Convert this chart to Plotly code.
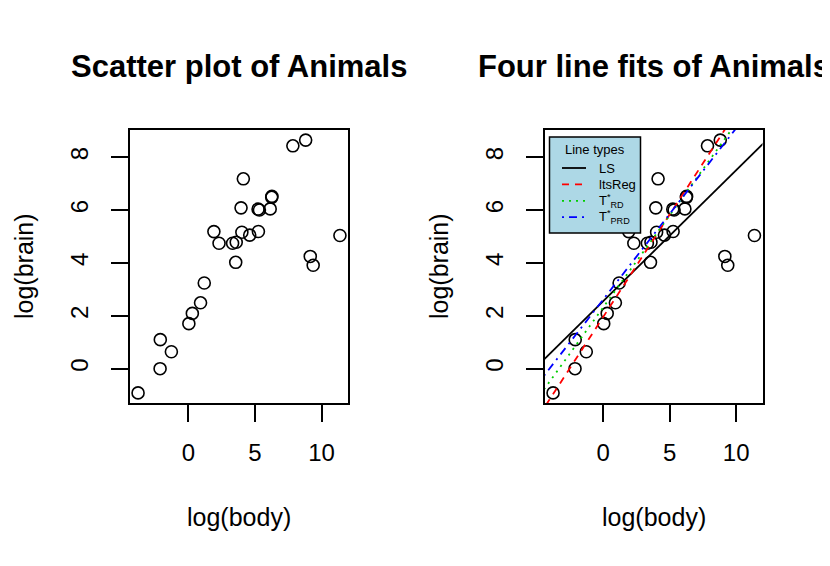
import plotly.graph_objects as go

# dados: log(body) e log(brain) do conjunto Animals
animais = ['Mountain beaver', 'Cow', 'Grey wolf', 'Goat', 'Guinea pig', 'Dipliodocus',
           'Asian elephant', 'Donkey', 'Horse', 'Potar monkey', 'Cat', 'Giraffe',
           'Gorilla', 'Human', 'African elephant', 'Triceratops', 'Rhesus monkey',
           'Kangaroo', 'Golden hamster', 'Mouse', 'Rabbit', 'Sheep', 'Jaguar',
           'Chimpanzee', 'Rat', 'Brachiosaurus', 'Mole', 'Pig']
log_body = [0.300, 6.142, 3.593, 3.320, 0.039, 9.367, 7.843, 5.232, 6.256, 2.303,
            1.194, 6.271, 5.333, 4.127, 8.803, 9.148, 1.917, 3.555, -2.120, -3.772,
            0.916, 4.016, 4.605, 3.954, -1.273, 11.374, -2.104, 5.257]
log_brain = [2.092, 6.047, 4.783, 4.745, 1.705, 3.912, 8.434, 6.038, 6.485, 4.745,
             3.243, 6.522, 6.006, 7.185, 8.650, 4.248, 5.187, 4.025, 0.000, -0.916,
             2.493, 5.165, 5.056, 6.087, 0.642, 5.040, 1.099, 5.193]

# ajustes das retas (intercepto, inclinação)
nomes_retas = ['LS', 'ltsReg', 'T<sup>*</sup><sub>RD</sub>', 'T<sup>*</sup><sub>PRD</sub>']
interceptos = [2.555, 1.96, 2.32, 2.62]
inclinacoes = [0.496, 0.775, 0.697, 0.648]
cores = ['black', '#FF0000', '#00CD00', '#0000FF']
tracos = ['solid', '7px,6px', '2px,5px', '2px,5px,8px,5px']

fonte = 'Liberation Sans, Arial, Helvetica, sans-serif'
W, H = 830, 566
OFF = 8  # margem do body da página

# faixa dos eixos como no R (4% de folga)
def faixa(v):
    a, b = min(v), max(v)
    d = (b - a) * 0.04
    return [a - d, b + d]

rx = faixa(log_body)
ry = faixa(log_brain)

px_x = lambda p: (p - OFF) / W
px_y = lambda p: 1 - (p - OFF) / H

fig = go.Figure()

for eixo in ['x', 'x2']:
    fig.add_trace(go.Scatter(
        x=log_body, y=log_brain, mode='markers', text=animais,
        marker=dict(symbol='circle-open', size=12, color='black', line=dict(width=1.6)),
        xaxis=eixo, yaxis='y' if eixo == 'x' else 'y2', showlegend=False
    ))

# retas ajustadas no painel da direita
for nome, a, b, c, t in zip(nomes_retas, interceptos, inclinacoes, cores, tracos):
    xs = [rx[0] - 1, rx[1] + 1]
    fig.add_trace(go.Scatter(
        x=xs, y=[a + b * v for v in xs], mode='lines', name=nome,
        line=dict(color=c, width=1.8, dash=t),
        xaxis='x2', yaxis='y2', showlegend=False
    ))

eixo_x = dict(range=rx, tickvals=[0, 5, 10], showline=True, mirror=True, linecolor='black',
              linewidth=1.5, ticks='outside', ticklen=17, tickwidth=1.5, tickcolor='black',
              showgrid=False, zeroline=False, ticklabelstandoff=10,
              tickfont=dict(family=fonte, size=24, color='black'))
eixo_y = dict(range=ry, tickvals=[0, 2, 4, 6, 8], showline=True, mirror=True, linecolor='black',
              linewidth=1.5, ticks='outside', ticklen=17, tickwidth=1.5, tickcolor='black',
              showgrid=False, zeroline=False, tickangle=-90, ticklabelstandoff=14,
              tickfont=dict(family=fonte, size=24, color='black'),
              domain=[px_y(403), px_y(130)])

fig.update_layout(
    width=W, height=H,
    margin=dict(l=0, r=0, t=0, b=0),
    paper_bgcolor='white', plot_bgcolor='white',
    xaxis=dict(eixo_x, domain=[px_x(130), px_x(348)], anchor='y'),
    yaxis=dict(eixo_y, anchor='x'),
    xaxis2=dict(eixo_x, domain=[px_x(545), px_x(762.5)], anchor='y2'),
    yaxis2=dict(eixo_y, anchor='x2'),
    showlegend=False
)

# legenda desenhada à mão, como no R
fig.add_shape(type='rect', xref='paper', yref='paper',
              x0=px_x(549.5), x1=px_x(640.5), y0=px_y(233), y1=px_y(137),
              fillcolor='#ADD8E6', line=dict(color='black', width=1.5), layer='above')
fig.add_annotation(text='Line types', x=px_x(595), y=px_y(149), xref='paper', yref='paper',
                   showarrow=False, xanchor='center', yanchor='middle',
                   font=dict(family=fonte, size=13, color='black'))
for i, (nome, c, t) in enumerate(zip(nomes_retas, cores, tracos)):
    yl = 168 + i * 16.4
    fig.add_shape(type='line', xref='paper', yref='paper',
                  x0=px_x(562), x1=px_x(586), y0=px_y(yl), y1=px_y(yl),
                  line=dict(color=c, width=1.8, dash=t), layer='above')
    fig.add_annotation(text=nome, x=px_x(597), y=px_y(yl), xref='paper', yref='paper',
                       showarrow=False, xanchor='left', yanchor='middle',
                       font=dict(family=fonte, size=13, color='black'))

# títulos e rótulos dos eixos
anot = [
    ('<b>Scatter plot of Animals</b>', 239, 67, 0, 31),
    ('<b>Four line fits of Animals</b>', 654, 67, 0, 31),
    ('log(body)', 239, 517, 0, 25),
    ('log(body)', 654, 517, 0, 25),
    ('log(brain)', 24, 266, -90, 25),
    ('log(brain)', 439, 266, -90, 25),
]
for txt, x, y, ang, tam in anot:
    fig.add_annotation(text=txt, x=px_x(x), y=px_y(y), xref='paper', yref='paper',
                       showarrow=False, textangle=ang, xanchor='center', yanchor='middle',
                       font=dict(family=fonte, size=tam, color='black'))

fig.write_html("out.html")
